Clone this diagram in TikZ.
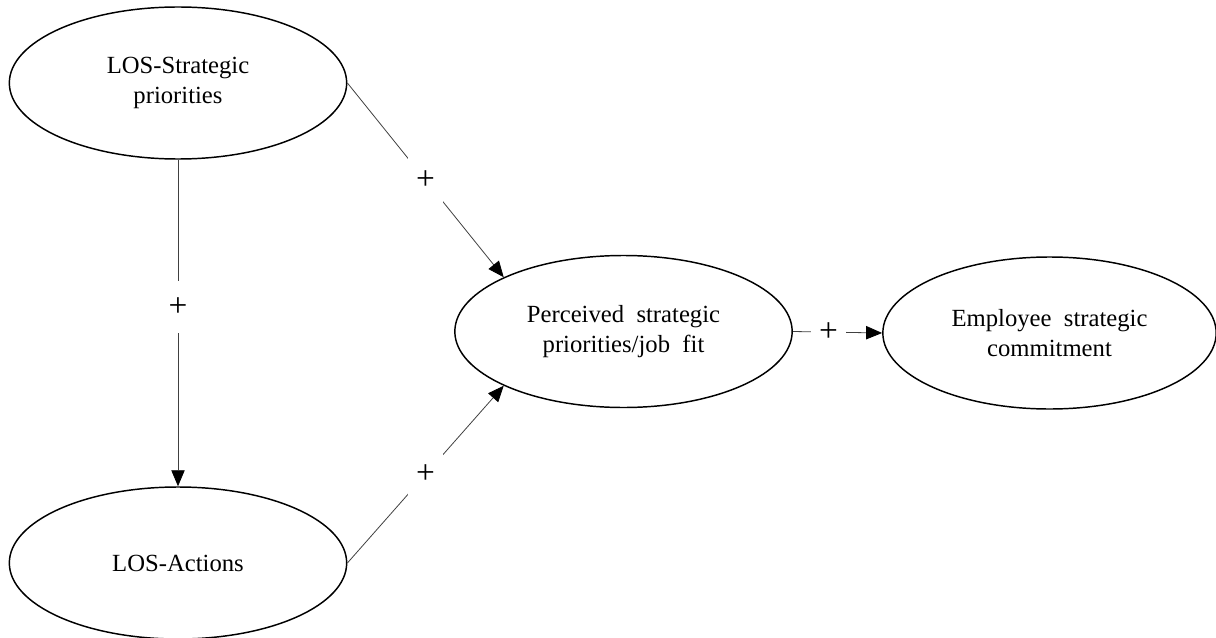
\documentclass[tikz,border=0pt]{standalone}
\usepackage{fontspec}
\setmainfont{Liberation Serif}
\usetikzlibrary{shapes.geometric,arrows.meta}
\begin{document}
\begin{tikzpicture}[x=0.75pt, y=-0.75pt,
    font=\fontsize{18.5}{22.5}\selectfont,
    latent/.style={ellipse, draw, line width=1.1pt, align=center, inner sep=0pt,
                   minimum width=253pt, minimum height=114pt},
    link/.style={draw=black!75, line width=0.6pt,
                 -{Triangle[length=12pt, width=10pt, color=black]}},
    plus/.style={fill=white, font=\fontsize{25}{25}\selectfont,
                 inner xsep=5.8pt, inner ysep=12.5pt}]
  \useasboundingbox (0,0) rectangle (1216,638);
  % --- constructs ---
  \node[latent] (sp) at (178,83)  {LOS-Strategic\\ priorities};
  \node[latent] (la) at (178,563) {LOS-Actions};
  \node[latent] (pf) at (623.5,331.5) {Perceived\ \ strategic\\ priorities/job\ \ fit};
  \node[latent, minimum width=250pt] (ec) at (1049.5,333) {Employee\ \ strategic\\ commitment};

  % --- paths ---
  \draw[link] (sp.south) -- node[plus, pos=0.45] (p1) {+} (la.north);
  \draw[link] (sp.east) -- node[plus] (p2) {+} (pf.north west);
  \draw[link] (la.east) -- node[plus] (p3) {+} (pf.south west);
  \draw[link] (pf.east) -- node[plus, pos=0.4] (p4) {+} (ec.west);
\end{tikzpicture}
\end{document}
